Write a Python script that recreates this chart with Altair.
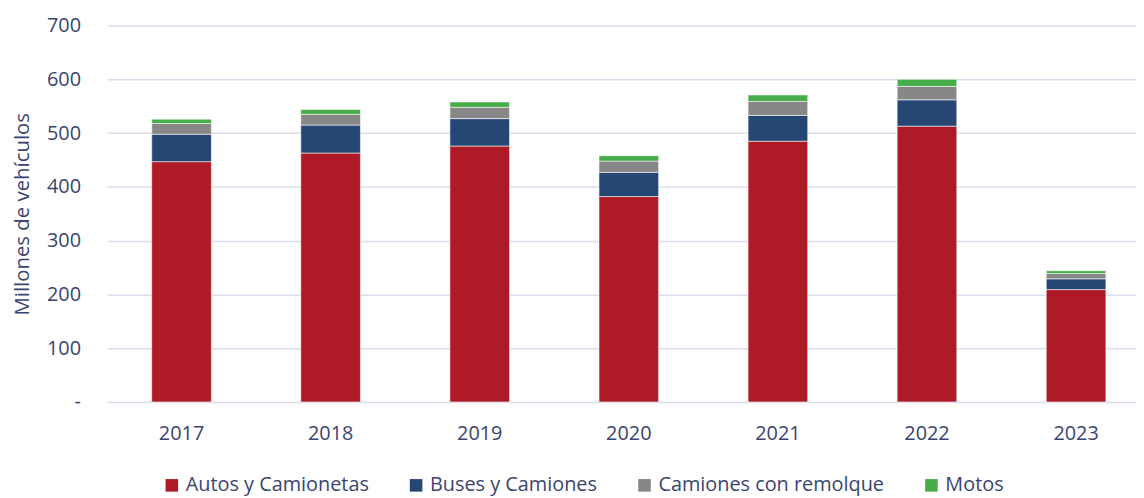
import altair as alt
import pandas as pd

years = ["2017", "2018", "2019", "2020", "2021", "2022", "2023"]
series = ["Autos y Camionetas", "Buses y Camiones", "Camiones con remolque", "Motos"]
autos = [447, 463, 476, 382, 485, 513, 209]
buses = [51, 52, 51, 45, 48, 49, 20]
remolque = [20, 20, 21, 21, 26, 25, 10]
motos = [8, 9, 10, 10, 12, 13, 5]
colors = ["#AE1A25", "#264673", "#878787", "#46AD4A"]

rows = []
for si, (name, vals) in enumerate(zip(series, [autos, buses, remolque, motos])):
    for y, v in zip(years, vals):
        rows.append({"year": y, "serie": name, "value": v, "ord": si})
df = pd.DataFrame(rows)

FONT = "Open Sans"
TXT = "#3A4471"

chart = alt.Chart(df).mark_bar(stroke="white", strokeWidth=0.8, strokeOpacity=0.7).encode(
    x=alt.X("year:N", title=None, sort=years,
            scale=alt.Scale(paddingInner=0.6, paddingOuter=0.25, align=0.596),
            axis=alt.Axis(labelAngle=0, domain=False, ticks=False, labelPadding=22,
                          labelFontSize=20, labelColor=TXT, labelFont=FONT, grid=False)),
    y=alt.Y("value:Q", title="Millones de vehículos",
            scale=alt.Scale(domain=[0, 700]),
            axis=alt.Axis(values=[0, 100, 200, 300, 400, 500, 600, 700],
                          labelExpr="datum.value == 0 ? '-' : datum.label",
                          domain=False, ticks=False, labelPadding=27,
                          labelFontSize=20, labelColor=TXT, labelFont=FONT,
                          titleFontSize=20.5, titleColor=TXT, titleFont=FONT,
                          titleFontWeight="normal", titlePadding=14,
                          gridColor="#DCDCEC", gridWidth=1.5)),
    color=alt.Color("serie:N", sort=series,
                    scale=alt.Scale(domain=series, range=colors),
                    legend=alt.Legend(title=None, orient="none", legendX=55, legendY=453,
                                      direction="horizontal", symbolType="square",
                                      symbolSize=160, symbolStrokeWidth=0,
                                      labelFontSize=20, labelColor=TXT, labelFont=FONT,
                                      labelLimit=0,
                                      columnPadding=37, symbolOffset=0, labelOffset=4)),
    order=alt.Order("ord:Q"),
).properties(
    width=1036, height=379,
    autosize=alt.AutoSizeParams(type="none"),
    padding={"left": 100, "top": 16, "right": 0, "bottom": 95},
).configure_view(stroke=None)

chart.save("out.html", embed_options={"renderer": "svg", "actions": False})
